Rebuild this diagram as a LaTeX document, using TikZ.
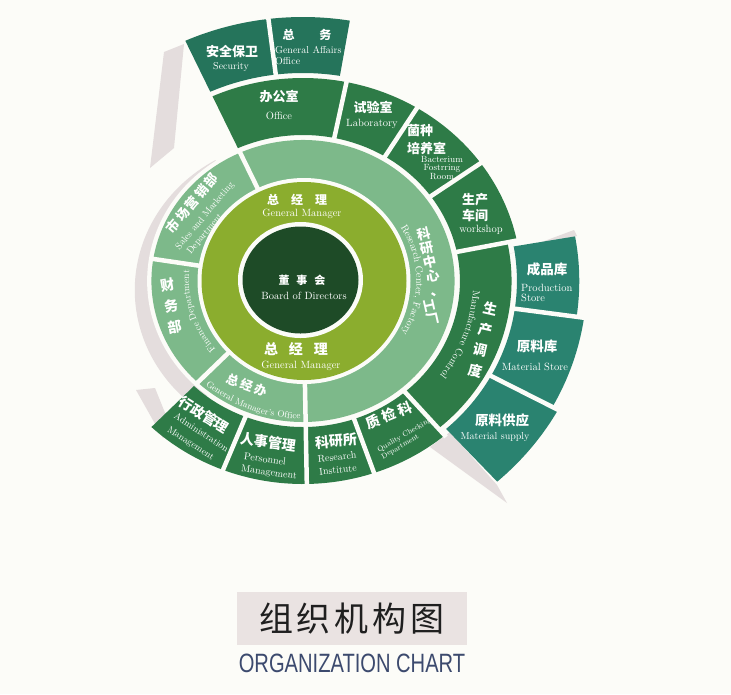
\documentclass[tikz,border=0pt]{standalone}
\usepackage{fontspec}
\newfontfamily\cjk{Noto Sans CJK SC}
\newfontfamily\narrowsans{Liberation Sans}[FakeStretch=0.76]
\usetikzlibrary{decorations.text}
\definecolor{bg}{HTML}{FCFCF8}
\definecolor{board}{HTML}{1E4B27}
\definecolor{gm}{HTML}{8BAD2E}
\definecolor{mid}{HTML}{7DB98A}
\definecolor{dept}{HTML}{2E7B47}
\definecolor{topgreen}{HTML}{25745B}
\definecolor{store}{HTML}{2A8370}
\definecolor{shadecol}{HTML}{E4DDDD}
\definecolor{titlebg}{HTML}{EAE3E2}
\definecolor{titleblue}{HTML}{3C4A6E}
\newcommand\sect[5]{\fill[#1] (#2:#4pt) arc[start angle=#2,end angle=#3,radius=#4pt] -- (#3:#5pt) arc[start angle=#3,end angle=#2,radius=#5pt] -- cycle;}
\tikzset{
  cn/.style={font=\cjk\bfseries\fontsize{#1}{#1}\selectfont, text=white, inner sep=0pt},
  cn/.default=13,
  en/.style={font=\fontsize{#1}{#1}\selectfont, text=white, inner sep=0pt},
  en/.default=9,
  gapline/.style={draw=bg, line width=4.5pt},
  shade/.style={fill=shadecol},
}
\begin{document}
\begin{tikzpicture}[x=1pt,y=-1pt]
\fill[bg] (0,0) rectangle (731,694);
\useasboundingbox (0,0) rectangle (731,694);
\coordinate (O) at (303,281);
\coordinate (G) at (304,281);
\coordinate (B) at (300.5,280);
% decorative grey relief
\fill[shade] (164,52) -- (184,44) -- (174,148) -- (150,168) -- cycle;
\begin{scope}[shift={(296,290)}, xscale=1.075]
  \fill[shade] (0,0) -- (120:150pt) arc[start angle=120,end angle=232,radius=150pt] -- cycle;
\end{scope}
\fill[shade] (136,390) -- (155,388) -- (172,430) -- (163,438) -- cycle;
\fill[shade] (488,262) -- (574,230) -- (577,236) -- (518,251) -- cycle;
\fill[shade] (430,447) -- (450,432) -- (497,485) -- (507,503) -- cycle;
% rings
\begin{scope}[shift={(O)}, xscale=1.075]
  \fill[bg] (0,0) circle[radius=145pt];
  \sect{mid}{-89}{114.5}{1}{141}
  \sect{mid}{114.5}{171}{1}{141}
  \sect{mid}{171}{226}{1}{141}
  \sect{mid}{226}{271}{1}{141}
  \sect{dept}{78.5}{114.5}{146}{203}
  \sect{dept}{58.5}{78.5}{146}{203}
  \sect{dept}{35.5}{58.5}{146}{203}
  \sect{dept}{11.5}{35.5}{146}{203}
  \sect{dept}{-49.5}{11.5}{146}{194}
  \sect{dept}{-71}{-49.5}{146}{203}
  \sect{dept}{-89}{-71}{146}{203}
  \sect{dept}{-111.5}{-89}{146}{203}
  \sect{dept}{-134}{-111.5}{146}{203}
  \sect{topgreen}{97}{114.5}{208}{264}
  \sect{topgreen}{80.5}{97}{208}{264}
  \sect{store}{-8}{10}{199}{257}
  \sect{store}{-28.5}{-8}{199}{264}
  \sect{store}{-48}{-28.5}{199}{270}
  \foreach \a/\ra/\rb in {114.5/90pt/143pt, 171/90pt/143pt, 226/90pt/143pt, 271/90pt/205pt,
     78.5/144pt/205pt, 58.5/144pt/205pt, 35.5/144pt/205pt, 11.5/144pt/205pt, -49.5/144pt/205pt,
     -71/144pt/205pt, -111.5/144pt/205pt, 97/206pt/266pt, -8/197pt/272pt, -28.5/197pt/272pt}
     \draw[gapline] (\a:\ra) -- (\a:\rb);
\end{scope}
% general manager ring and board
\fill[bg] (G) ellipse[x radius=106.5pt, y radius=103pt];
\fill[gm] (G) ellipse[x radius=102.5pt, y radius=99pt];
\fill[bg] (B) ellipse[x radius=62.5pt, y radius=58pt];
\fill[board] (B) ellipse[x radius=58pt, y radius=53.5pt];
% centre
\node[cn=11] (bd) at (302,280) {董\hspace{7pt}事\hspace{7pt}会};
\node[en=10.5] (bden) at (304,296) {Board of Directors};
\node[cn=12] (gm1) at (297,200) {总\hspace{12pt}经\hspace{12pt}理};
\node[en=10.5] (gm1en) at (302,214) {General Manager};
\node[cn=14] (gm2) at (296,349) {总\hspace{11pt}经\hspace{11pt}理};
\node[en=10.5] (gm2en) at (301,366) {General Manager};
% top blocks
\node[cn=13] (sec) at (232,52) {安全保卫};
\node[en=10] (secen) at (231,67) {Security};
\node[cn=12] (ga) at (307,35) {总\hspace{25pt}务};
\node[en, align=left, anchor=west, font=\fontsize{10}{11}\selectfont] (gaen) at (275,56) {General Affairs\\Office};
\node[cn=13] (off) at (279,97) {办公室};
\node[en=10.5] (offen) at (279,116) {Office};
\node[cn=13] (lab) at (373,107) {试验室};
\node[en=10.5] (laben) at (372,124) {Laboratory};
\node[cn, align=left, anchor=west, font=\cjk\bfseries\fontsize{13}{18}\selectfont] (bac) at (407,140) {菌种\\培养室};
\node[en, align=center, font=\fontsize{9}{8}\selectfont] (bacen) at (442,168) {Bacterium\\Fostrring\\Room};
\node[cn, align=center, font=\cjk\bfseries\fontsize{13}{16}\selectfont] (ws) at (475,208) {生产\\车间};
\node[en=10.5] (wsen) at (481,230) {workshop};
% left blocks
\node[cn=13, rotate=50] (sm) at (192,203) {市\hspace{2pt}场\hspace{2pt}营\hspace{2pt}销\hspace{2pt}部};
\node[en=9.5, rotate=50] (smen) at (205,216) {Sales and Marketing};
\node[en=9.5, rotate=50] (smen2) at (205,234) {Department};
\node[cn, align=center, rotate=10, font=\cjk\bfseries\fontsize{14}{21}\selectfont] (fin) at (171,306) {财\\务\\部};
\path[decorate, decoration={text along path, text color=white, text align=center,
  text={|\fontsize{9.5}{9.5}\selectfont|Finance Department}}]
  ([shift={(O)}]226:114pt and 106pt) arc[start angle=226, end angle=168, x radius=114pt, y radius=106pt];
\node[cn=12.5, rotate=-20] (gmo) at (247,385) {总\hspace{2pt}经\hspace{2pt}办};
\path[decorate, decoration={text along path, text color=white, text align=center,
  text={|\fontsize{9}{9}\selectfont|General Manager's Office}}]
  ([shift={(O)}]-132:148.3pt and 138pt) arc[start angle=-132, end angle=-90, x radius=148.3pt, y radius=138pt];
% bottom blocks
\node[cn=14, rotate=-32, anchor=west] (adm) at (180,400) {行政管理};
\node[en=9.5, rotate=-33, anchor=west] (admen) at (175,415) {Administration};
\node[en=9.5, rotate=-33, anchor=west] (admen2) at (168,429) {Management};
\node[cn=14, rotate=-8] (per) at (268,442) {人事管理};
\node[en=10, rotate=-8] (peren) at (265,459) {Personnel};
\node[en=10, rotate=-8] (peren2) at (269,473) {Management};
\node[cn=14, rotate=5] (ri) at (336,441) {科研所};
\node[en=10, rotate=6] (rien) at (337,457) {Research};
\node[en=10, rotate=6] (rien2) at (338,470) {Institute};
\node[cn=14, rotate=22] (qc) at (389,415) {质\hspace{3pt}检\hspace{3pt}科};
\node[en, rotate=30, align=left, anchor=west, font=\fontsize{7.5}{8}\selectfont] (qcen) at (380,454) {Quality Checking\\Department};
% right side
\node[cn, align=center, rotate=13, font=\cjk\bfseries\fontsize{13.5}{14.5}\selectfont] (rc) at (430,262) {科\\研\\中\\心\\、};
\node[cn=13, rotate=-77] (fac) at (431,312) {工厂};
\path[decorate, decoration={text along path, text color=white, text align=center,
  text={|\fontsize{10}{10}\selectfont|Research Center, Factory}}]
  ([shift={(O)}]33:113.4pt and 105.5pt) arc[start angle=33, end angle=-32, x radius=113.4pt, y radius=105.5pt];
\node[cn, align=center, rotate=-13, font=\cjk\bfseries\fontsize{14}{21}\selectfont] (mc) at (483,340) {生\\产\\调\\度};
\path[decorate, decoration={text along path, text color=white, text align=center,
  text={|\fontsize{10}{10}\selectfont|Manufacture Control}}]
  ([shift={(O)}]-1:170.4pt and 158.5pt) arc[start angle=-1, end angle=-39, x radius=170.4pt, y radius=158.5pt];
\node[cn=13.5] (ps) at (547,269) {成品库};
\node[en, align=left, anchor=west, font=\fontsize{10.5}{10}\selectfont] (psen) at (521,293) {Production\\Store};
\node[cn=13.5] (ms) at (537,346) {原料库};
\node[en=10.5] (msen) at (535,367) {Material Store};
\node[cn=13.5] (sup) at (502,420) {原料供应};
\node[en=10] (supen) at (495,437) {Material supply};
% title
\node[fill=titlebg, minimum width=230pt, minimum height=53pt, inner sep=0pt, text=black!88,
  font=\cjk\fontsize{34}{34}\selectfont] (title) at (352,618.5) {组\hspace{4pt}织\hspace{4pt}机\hspace{4pt}构\hspace{4pt}图};
\node[font=\narrowsans\fontsize{26.5}{26.5}\selectfont, text=titleblue, inner sep=0pt] (sub) at (352,663) {ORGANIZATION CHART};
\end{tikzpicture}
\end{document}
